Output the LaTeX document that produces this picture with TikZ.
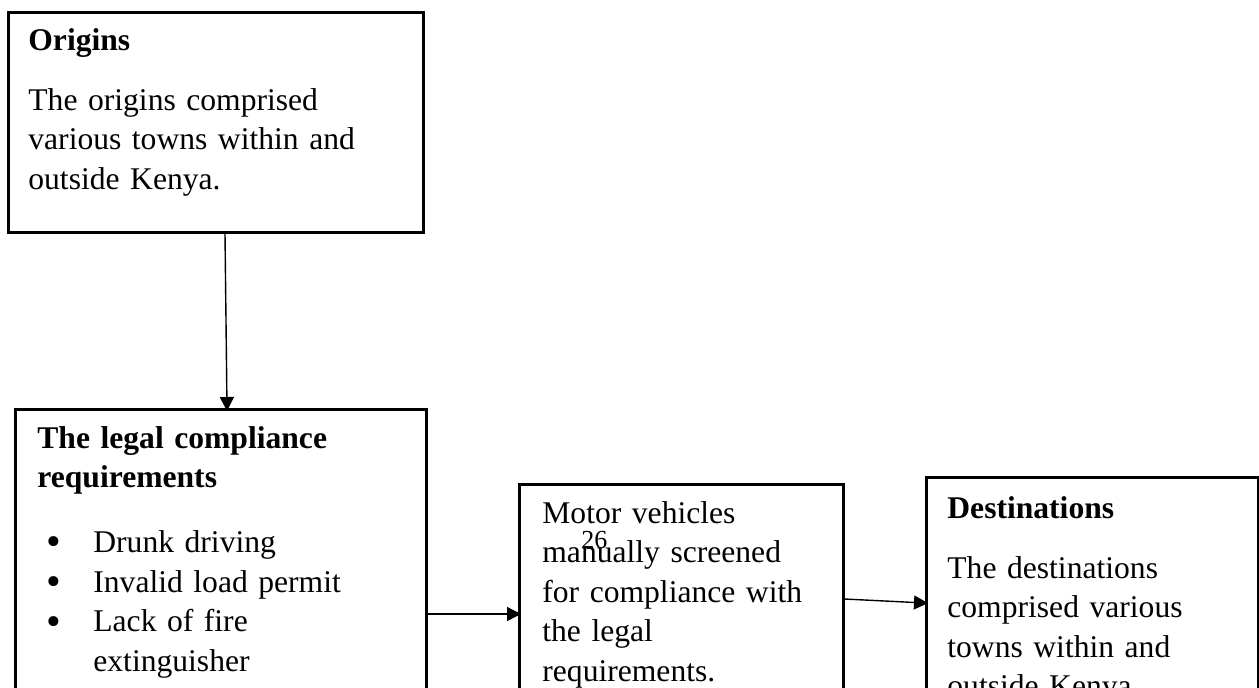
\documentclass[tikz,border=0pt]{standalone}
\usepackage{fontspec}
\setmainfont{Liberation Serif}
\usepackage{tikz}
\usetikzlibrary{arrows.meta, positioning}
\tikzset{
  frame/.style={rectangle, draw=black, line width=1.25pt, inner sep=0pt,
                anchor=north west, minimum width=#1},
  frame/.default=200pt,
  txt/.style={anchor=base west, inner sep=0pt, text width=#1, align=left,
              font=\fontsize{15.8}{19.8}\selectfont},
  txt/.default=200pt,
  arrow/.style={-{Triangle[length=7pt, width=7pt]}, line width=0.7pt, shorten >=-1.5pt},
}
\newcommand{\bitem}[1]{\hspace*{4.5pt}\makebox[23.5pt][l]{\raisebox{-1.6pt}{\fontsize{21}{19.8}\selectfont\textbullet}}#1}

\begin{document}
\begin{tikzpicture}[x=0.5pt, y=-0.5pt]
  \useasboundingbox (0,0) rectangle (1259,687);
  \clip (0,0) rectangle (1259,687);

  % boxes
  \node[frame=207.5pt, minimum height=110pt] (origins) at (7,11) {};
  \node[frame=205.5pt, minimum height=160pt] (legal) at (14,408) {};
  \node[frame=162pt, minimum height=130pt] (motor) at (518,483) {};
  \node[frame=166pt, minimum height=130pt] (dest) at (925,476) {};

  % texts
  \node[txt] (origtxt) at (28,50)
       {\textbf{Origins}\\[10.2pt]
        The origins comprised\\
        various towns within and\\
        outside Kenya.};
  \node[txt] (legaltxt) at (37,448)
       {\textbf{The legal compliance}\\
        \textbf{requirements}\\[12.7pt]
        \bitem{Drunk driving}\\
        \bitem{Invalid load permit}\\
        \bitem{Lack of fire}\\
        \hspace*{28pt}extinguisher};
  \node[txt] (motortxt) at (542,523)
       {Motor vehicles\\
        manually screened\\
        for compliance with\\
        the legal\\
        requirements.};
  \node[txt] (desttxt) at (947,518)
       {\textbf{Destinations}\\[10.2pt]
        The destinations\\
        comprised various\\
        towns within and\\
        outside Kenya.};
  \node[anchor=base west, inner sep=0pt, font=\fontsize{13}{15}\selectfont] (pagenum) at (581,548) {26};

  % arrows
  \draw[arrow] (origins.south -| 225,0) -- (legal.north -| 227,0);
  \draw[arrow] (legal.east |- 0,614) -- (motor.west |- 0,614);
  \draw[arrow] (motor.east |- 0,599) -- (dest.west |- 0,603);
\end{tikzpicture}
\end{document}
